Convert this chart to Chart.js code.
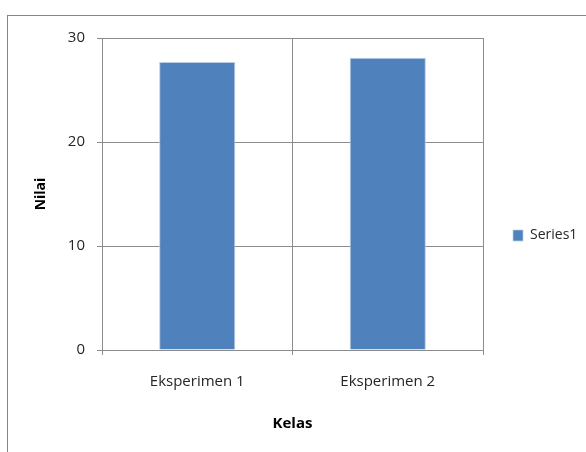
<!DOCTYPE html>
<html>
<head>
<meta charset="utf-8">
<script src="https://cdn.jsdelivr.net/npm/chart.js@4/dist/chart.umd.min.js"></script>
<style>
  html, body { margin: 0; padding: 0; background: #ffffff; }
  #wrap { width: 586px; height: 452px; position: relative; }
</style>
</head>
<body>
<div id="wrap"><canvas id="c" width="586" height="452"></canvas></div>
<script>
const categories = ['Eksperimen 1', 'Eksperimen 2'];
const seriesName = 'Series1';
const seriesValues = [27.7, 28.1];
const yTicks = [0, 10, 20, 30];

const gridColor = '#8c8c8c';
const textColor = '#262626';
const fontFamily = '"Open Sans", Lato, sans-serif';

// outer frame around the chart
const framePlugin = {
  id: 'frame',
  beforeDraw(chart) {
    const ctx = chart.ctx;
    ctx.save();
    ctx.fillStyle = '#ffffff';
    ctx.fillRect(0, 0, chart.width, chart.height);
    ctx.strokeStyle = '#868686';
    ctx.lineWidth = 1;
    ctx.strokeRect(7.5, 15.5, 700, 600);
    ctx.restore();
  }
};

new Chart(document.getElementById('c'), {
  type: 'bar',
  data: {
    labels: categories,
    datasets: [{
      label: seriesName,
      data: seriesValues,
      backgroundColor: '#4f81bd',
      borderColor: '#b9cde5',
      borderWidth: { top: 1, left: 1, right: 1, bottom: 0 },
      categoryPercentage: 0.4,
      barPercentage: 1.0
    }]
  },
  options: {
    responsive: false,
    animation: false,
    devicePixelRatio: 1,
    layout: { padding: { top: 38, right: 0, left: 33, bottom: 19 } },
    plugins: {
      legend: {
        position: 'right',
        maxWidth: 103,
        labels: {
          boxWidth: 10,
          boxHeight: 11,
          padding: 30,
          color: textColor,
          font: { family: fontFamily, size: 14 }
        }
      },
      tooltip: { enabled: false }
    },
    scales: {
      x: {
        offset: true,
        grid: { display: true, offset: true, color: gridColor, tickLength: 5, drawTicks: true },
        border: { display: true, color: gridColor },
        ticks: { color: textColor, font: { family: fontFamily, size: 15 }, padding: 18 },
        title: {
          display: true, text: 'Kelas', color: '#000000',
          font: { family: fontFamily, size: 15, weight: 'bold' },
          padding: { top: 14, bottom: 0 }
        },
        afterFit(scale) { scale.height = 83; }
      },
      y: {
        min: 0, max: 30,
        afterBuildTicks(scale) { scale.ticks = yTicks.map(v => ({ value: v })); },
        grid: { color: gridColor, tickLength: 5 },
        border: { display: true, color: gridColor },
        ticks: { color: textColor, font: { family: fontFamily, size: 15 }, padding: 12 },
        title: {
          display: true, text: 'Nilai', color: '#000000',
          font: { family: fontFamily, size: 14, weight: 'bold' },
          padding: { top: 0, bottom: 10 }
        },
        afterFit(scale) { scale.width = 69; }
      }
    }
  },
  plugins: [framePlugin]
});
</script>
</body>
</html>
